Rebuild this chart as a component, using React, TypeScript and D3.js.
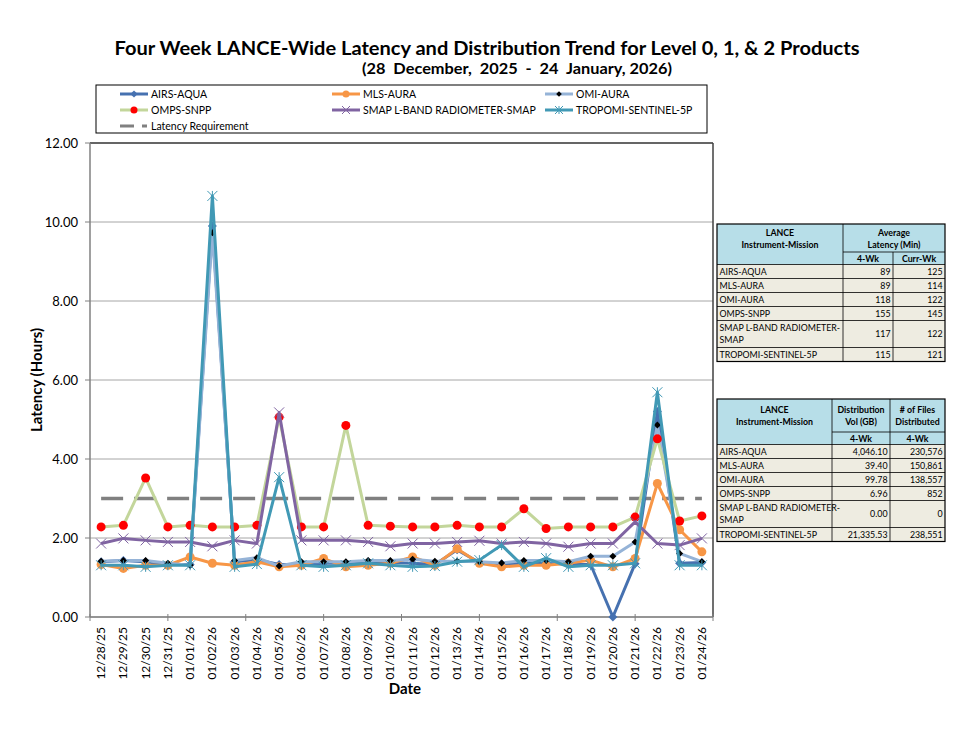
import * as d3 from 'd3';

const dates = [
  '12/28/25', '12/29/25', '12/30/25', '12/31/25', '01/01/26', '01/02/26', '01/03/26',
  '01/04/26', '01/05/26', '01/06/26', '01/07/26', '01/08/26', '01/09/26', '01/10/26',
  '01/11/26', '01/12/26', '01/13/26', '01/14/26', '01/15/26', '01/16/26', '01/17/26',
  '01/18/26', '01/19/26', '01/20/26', '01/21/26', '01/22/26', '01/23/26', '01/24/26',
];

const airsAqua = [1.40, 1.43, 1.40, 1.33, 1.33, 9.9, 1.40, 1.45, 1.33, 1.33, 1.36, 1.36, 1.40, 1.38,
  1.36, 1.33, 1.70, 1.38, 1.35, 1.36, 1.38, 1.33, 1.33, 0.0, 1.35, 5.2, 1.36, 1.38];
const mlsAura = [1.33, 1.23, 1.31, 1.31, 1.52, 1.36, 1.31, 1.40, 1.27, 1.31, 1.48, 1.27, 1.31, 1.36,
  1.52, 1.31, 1.73, 1.36, 1.27, 1.31, 1.31, 1.36, 1.44, 1.27, 1.48, 3.38, 2.21, 1.65];
const omiAura = [1.41, 1.43, 1.43, 1.36, 1.31, 9.73, 1.43, 1.50, 1.29, 1.40, 1.40, 1.40, 1.43, 1.43,
  1.46, 1.41, 1.41, 1.40, 1.37, 1.43, 1.43, 1.40, 1.54, 1.54, 1.90, 4.86, 1.61, 1.40];
const ompsSnpp = [2.28, 2.32, 3.52, 2.28, 2.32, 2.28, 2.28, 2.32, 5.06, 2.28, 2.28, 4.85, 2.32, 2.30,
  2.28, 2.28, 2.32, 2.28, 2.28, 2.74, 2.24, 2.28, 2.28, 2.28, 2.53, 4.51, 2.43, 2.56];
const smapRadiometer = [1.86, 1.99, 1.94, 1.90, 1.90, 1.79, 1.94, 1.86, 5.18, 1.94, 1.94, 1.94, 1.90, 1.79,
  1.86, 1.86, 1.90, 1.93, 1.86, 1.90, 1.86, 1.78, 1.86, 1.86, 2.41, 1.86, 1.82, 1.99];
const tropomi = [1.31, 1.31, 1.27, 1.31, 1.31, 10.66, 1.27, 1.34, 3.54, 1.31, 1.27, 1.31, 1.36, 1.31,
  1.27, 1.29, 1.40, 1.44, 1.82, 1.27, 1.49, 1.27, 1.31, 1.31, 1.36, 5.69, 1.31, 1.31];
const latencyRequirement = 3;

const yTicks = [0, 2, 4, 6, 8, 10, 12];

const instruments = ['AIRS-AQUA', 'MLS-AURA', 'OMI-AURA', 'OMPS-SNPP', 'SMAP L-BAND RADIOMETER-SMAP', 'TROPOMI-SENTINEL-5P'];
const latency4Wk = ['89', '89', '118', '155', '117', '115'];
const latencyCurrWk = ['125', '114', '122', '145', '122', '121'];
const distVolume = ['4,046.10', '39.40', '99.78', '6.96', '0.00', '21,335.53'];
const filesDistributed = ['230,576', '150,861', '138,557', '852', '0', '238,551'];

const FONT = 'Lato, "Open Sans", sans-serif';

type MarkerType = 'diamond' | 'circle' | 'x' | 'star';

const series: { name: string; values: number[]; color: string; marker: MarkerType; markerColor: string; size: number }[] = [
  { name: 'AIRS-AQUA', values: airsAqua, color: '#4671B0', marker: 'diamond', markerColor: '#4671B0', size: 4.5 },
  { name: 'MLS-AURA', values: mlsAura, color: '#F79646', marker: 'circle', markerColor: '#F79646', size: 4.5 },
  { name: 'OMI-AURA', values: omiAura, color: '#95B3D7', marker: 'diamond', markerColor: '#000000', size: 3.5 },
  { name: 'OMPS-SNPP', values: ompsSnpp, color: '#C3D69B', marker: 'circle', markerColor: '#FF0000', size: 4.5 },
  { name: 'SMAP L-BAND RADIOMETER-SMAP', values: smapRadiometer, color: '#8064A2', marker: 'x', markerColor: '#8064A2', size: 5 },
  { name: 'TROPOMI-SENTINEL-5P', values: tropomi, color: '#4199B5', marker: 'star', markerColor: '#4199B5', size: 5 },
];

function Marker({ type, x, y, color, size }: { type: MarkerType; x: number; y: number; color: string; size: number }) {
  if (type === 'circle') {
    return <circle cx={x} cy={y} r={size} fill={color} />;
  }
  if (type === 'diamond') {
    return <path d={`M${x},${y - size}L${x + size},${y}L${x},${y + size}L${x - size},${y}Z`} fill={color} />;
  }
  const s = size;
  const lines = [
    [x - s, y - s, x + s, y + s],
    [x - s, y + s, x + s, y - s],
  ];
  if (type === 'star') lines.push([x, y - s, x, y + s]);
  return (
    <g stroke={color} strokeWidth={1}>
      {lines.map((l, i) => <line key={i} x1={l[0]} y1={l[1]} x2={l[2]} y2={l[3]} />)}
    </g>
  );
}

function DataTable({ x, y, colWidths, headerH, title, subHeaders, cols }: {
  x: number; y: number; colWidths: number[]; headerH: number;
  title: string[][]; subHeaders: string[]; cols: string[][];
}) {
  const subH = 12.5;
  const rowH = instruments.map((n) => (n.startsWith('SMAP') ? 27 : 14));
  const colX = [x];
  colWidths.forEach((w, i) => colX.push(colX[i] + w));
  const totalW = colWidths.reduce((a, b) => a + b, 0);
  const rowsTop = y + headerH + subH;
  const rowY: number[] = [];
  let acc = rowsTop;
  rowH.forEach((h) => { rowY.push(acc); acc += h; });
  const bottom = acc;
  return (
    <g fontFamily={FONT} fontSize={8.8} fill="#000">
      <rect x={x} y={y} width={totalW} height={headerH + subH} fill="#B7DEE8" />
      <rect x={x} y={rowsTop} width={totalW} height={bottom - rowsTop} fill="#EEECE1" />
      {title.map((lines, ci) => {
        const hx = ci === 0 ? (colX[0] + colX[1]) / 2 : (title.length === 2 ? (colX[1] + colX[3]) / 2 : (colX[ci] + colX[ci + 1]) / 2);
        return lines.map((t, li) => (
          <text key={`${ci}-${li}`} x={hx} y={y + headerH / 2 - (lines.length - 1) * 6 + li * 12 + 3.5}
            textAnchor="middle" fontWeight="bold">{t}</text>
        ));
      })}
      {subHeaders.map((t, i) => (
        <text key={`s${i}`} x={(colX[i + 1] + colX[i + 2]) / 2} y={y + headerH + subH / 2 + 3.3}
          textAnchor="middle" fontWeight="bold">{t}</text>
      ))}
      {instruments.map((name, r) => {
        const yy = rowY[r];
        const h = rowH[r];
        const nameLines = name.startsWith('SMAP') ? ['SMAP L-BAND RADIOMETER-', 'SMAP'] : [name];
        return (
          <g key={name}>
            {nameLines.map((t, li) => (
              <text key={li} x={x + 2.5} y={yy + h / 2 - (nameLines.length - 1) * 6 + li * 12 + 3.2}>{t}</text>
            ))}
            {cols.map((c, ci) => (
              <text key={ci} x={colX[ci + 2] - 2.5} y={yy + h / 2 + 3.2} textAnchor="end">{c[r]}</text>
            ))}
          </g>
        );
      })}
      <g stroke="#000" strokeWidth={0.8} fill="none">
        <rect x={x} y={y} width={totalW} height={bottom - y} strokeWidth={1.2} />
        <line x1={x} x2={x + totalW} y1={y + headerH + subH} y2={y + headerH + subH} />
        <line x1={colX[1]} x2={x + totalW} y1={y + headerH} y2={y + headerH} />
        {rowY.slice(1).map((ry, i) => <line key={i} x1={x} x2={x + totalW} y1={ry} y2={ry} />)}
        <line x1={colX[1]} x2={colX[1]} y1={y} y2={bottom} />
        <line x1={colX[2]} x2={colX[2]} y1={title.length === 2 ? y + headerH : y} y2={bottom} />
      </g>
    </g>
  );
}

export default function App() {
  const width = 972;
  const height = 729;
  const plot = { left: 90, right: 713, top: 143, bottom: 617 };

  const x = d3.scaleBand<string>().domain(dates).range([plot.left, plot.right]);
  const cx = (d: string) => (x(d) as number) + x.bandwidth() / 2;
  const y = d3.scaleLinear().domain([0, 12]).range([plot.bottom, plot.top]);

  const line = d3.line<number>()
    .x((_, i) => cx(dates[i]))
    .y((v) => y(v));

  // category tick marks fall every 3.5 categories in the original
  const tickMarks = d3.range(0, dates.length + 0.01, 3.5).map((k) => plot.left + k * x.bandwidth());

  const legendCols = [120, 332, 545];
  const legendRows = [94, 110, 126];

  return (
    <svg width={width} height={height} style={{ position: 'absolute', left: 0, top: 0, background: '#fff' }}>
      <rect width={width} height={height} fill="#fff" />
      {/* Title */}
      <text x={487} y={55} textAnchor="middle" fontFamily={FONT} fontWeight="bold" fontSize={18}
        textLength={745} lengthAdjust="spacingAndGlyphs">
        Four Week LANCE-Wide Latency and Distribution Trend for Level 0, 1, &amp; 2 Products
      </text>
      <text x={517} y={74} textAnchor="middle" fontFamily={FONT} fontWeight="bold" fontSize={15}
        textLength={310} lengthAdjust="spacingAndGlyphs" style={{ whiteSpace: 'pre' }}>
        {'(28  December,  2025  -  24  January, 2026)'}
      </text>

      {/* Legend */}
      <rect x={96} y={85} width={611} height={48} fill="#fff" stroke="#000" strokeWidth={1} />
      {series.map((s, i) => {
        const lx = legendCols[i % 3];
        const ly = legendRows[Math.floor(i / 3)];
        return (
          <g key={s.name}>
            <line x1={lx} x2={lx + 28} y1={ly} y2={ly} stroke={s.color} strokeWidth={3} />
            <Marker type={s.marker} x={lx + 14} y={ly} color={s.markerColor} size={s.marker === 'circle' ? 3.5 : s.size * 0.8} />
            <text x={lx + 31} y={ly + 4} fontFamily={FONT} fontSize={10.5}>{s.name}</text>
          </g>
        );
      })}
      <line x1={120} x2={147} y1={126} y2={126} stroke="#808080" strokeWidth={3} strokeDasharray="14,8" />
      <text x={151} y={130} fontFamily={FONT} fontSize={10.5}>Latency Requirement</text>

      {/* Gridlines */}
      {yTicks.map((t) => (
        <line key={t} x1={plot.left} x2={plot.right} y1={y(t)} y2={y(t)} stroke="#A6A6A6" strokeWidth={1} />
      ))}

      {/* Y axis */}
      {yTicks.map((t) => (
        <g key={`yl${t}`}>
          <line x1={plot.left - 5} x2={plot.left} y1={y(t)} y2={y(t)} stroke="#808080" />
          <text x={78} y={y(t) + 4.5} textAnchor="end" fontFamily={FONT} fontSize={13}>{t.toFixed(2)}</text>
        </g>
      ))}
      <text transform={`translate(42,${(plot.top + plot.bottom) / 2}) rotate(-90)`} textAnchor="middle"
        fontFamily={FONT} fontWeight="bold" fontSize={15}>Latency (Hours)</text>

      {/* Frame */}
      <line x1={plot.left} x2={plot.right} y1={plot.top} y2={plot.top} stroke="#404040" strokeWidth={1.5} />
      <line x1={plot.right} x2={plot.right} y1={plot.top} y2={plot.bottom} stroke="#404040" strokeWidth={1.5} />
      <line x1={plot.left} x2={plot.left} y1={plot.top} y2={plot.bottom} stroke="#808080" strokeWidth={1.5} />
      <line x1={plot.left} x2={plot.right} y1={plot.bottom} y2={plot.bottom} stroke="#808080" strokeWidth={1.5} />
      {tickMarks.map((tx, i) => (
        <line key={i} x1={tx} x2={tx} y1={plot.bottom - 3} y2={plot.bottom + 4} stroke="#808080" />
      ))}

      {/* X labels */}
      {dates.map((d) => (
        <text key={d} transform={`translate(${cx(d) + 4},${plot.bottom + 10}) rotate(-90)`} textAnchor="end"
          fontFamily={FONT} fontSize={12}>{d}</text>
      ))}
      <text x={405} y={694} textAnchor="middle" fontFamily={FONT} fontWeight="bold" fontSize={15}>Date</text>

      {/* Latency requirement */}
      <line x1={cx(dates[0])} x2={cx(dates[dates.length - 1])} y1={y(latencyRequirement)} y2={y(latencyRequirement)}
        stroke="#808080" strokeWidth={3.5} strokeDasharray="22,11" />

      {/* Series */}
      {series.map((s) => (
        <g key={s.name}>
          <path d={line(s.values) as string} fill="none" stroke={s.color} strokeWidth={3} strokeLinejoin="round" />
          {s.values.map((v, i) => (
            <Marker key={i} type={s.marker} x={cx(dates[i])} y={y(v)} color={s.markerColor} size={s.size} />
          ))}
        </g>
      ))}

      {/* Tables */}
      <DataTable x={717} y={224} colWidths={[126, 50, 52]} headerH={28}
        title={[['LANCE', 'Instrument-Mission'], ['Average', 'Latency (Min)']]}
        subHeaders={['4-Wk', 'Curr-Wk']} cols={[latency4Wk, latencyCurrWk]} />
      <DataTable x={717} y={399} colWidths={[115, 58, 55]} headerH={33}
        title={[['LANCE', 'Instrument-Mission'], ['Distribution', 'Vol (GB)'], ['# of Files', 'Distributed']]}
        subHeaders={['4-Wk', '4-Wk']} cols={[distVolume, filesDistributed]} />
    </svg>
  );
}
